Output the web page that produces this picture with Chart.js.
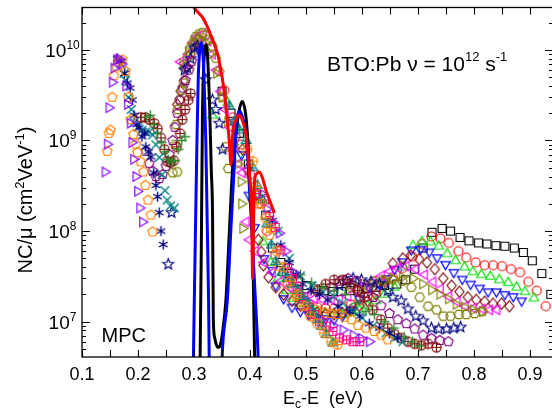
<!DOCTYPE html>
<html><head><meta charset="utf-8">
<script src="https://cdn.jsdelivr.net/npm/chart.js@4"></script>
<style>html,body{margin:0;padding:0;overflow:hidden;background:#fff}canvas{display:block}</style>
</head><body>
<canvas id="c" width="560" height="417"></canvas>
<script>
// ---------------- DATA (energy Ec-E in eV, NC/mu in cm^-2 V^-1 eV^-1) ----------------
const sqE = [0.350,0.366,0.381,0.397,0.412,0.428,0.440,0.455,0.470,0.486,0.501,0.517,0.532,0.548,0.563,0.579,0.594,0.610,0.625,0.640,0.662,0.678,0.694,0.709,0.725,0.743,0.758,0.775,0.791,0.808,0.823,0.839,0.855,0.872,0.888,0.904,0.921,0.937];
const sqV = [3.5e9,2.0e9,1.2e9,5.5e8,2.5e8,1.5e8,6.5e7,4.5e7,3.4e7,2.8e7,2.5e7,2.3e7,2.2e7,2.15e7,2.15e7,2.2e7,2.3e7,2.35e7,2.4e7,2.5e7,2.6e7,2.9e7,3.8e7,6.5e7,9.7e7,1.07e8,1.0e8,8.5e7,7.8e7,7.4e7,7.2e7,6.9e7,6.8e7,6.5e7,5.8e7,4.7e7,3.4e7,2.0e7];

const ciE = [0.354,0.370,0.385,0.400,0.415,0.430,0.445,0.460,0.475,0.490,0.505,0.520,0.535,0.550,0.565,0.580,0.595,0.610,0.625,0.640,0.655,0.672,0.690,0.707,0.724,0.740,0.755,0.772,0.786,0.803,0.819,0.834,0.850,0.866,0.882,0.897,0.912,0.928];
const ciV = [3.6e9,1.8e9,9.0e8,4.2e8,2.0e8,1.0e8,5.5e7,3.5e7,2.4e7,1.8e7,1.55e7,1.45e7,1.4e7,1.4e7,1.45e7,1.55e7,1.7e7,1.9e7,2.2e7,2.6e7,3.1e7,3.9e7,5.2e7,7.2e7,8.7e7,8.3e7,7.4e7,6.0e7,5.1e7,4.5e7,4.2e7,4.2e7,4.1e7,3.8e7,3.5e7,2.75e7,2.2e7,1.48e7];

const tuE = [0.333,0.360,0.375,0.390,0.405,0.423,0.437,0.450,0.465,0.478,0.491,0.505,0.520,0.535,0.550,0.565,0.580,0.595,0.610,0.625,0.640,0.658,0.674,0.691,0.707,0.722,0.737,0.752,0.767,0.783,0.798,0.813,0.829,0.845,0.861,0.876,0.891,0.907];
const tuV = [1.9e9,2.6e9,1.4e9,6.5e8,2.5e8,7.6e7,4.5e7,3.0e7,2.2e7,1.8e7,1.58e7,1.4e7,1.3e7,1.25e7,1.2e7,1.2e7,1.25e7,1.35e7,1.5e7,1.7e7,2.0e7,2.4e7,4.0e7,6.9e7,7.6e7,7.6e7,6.8e7,5.6e7,4.7e7,4.0e7,3.55e7,3.3e7,3.16e7,2.9e7,2.7e7,2.4e7,2.14e7,1.82e7];

const tdE = [0.370,0.385,0.398,0.408,0.425,0.440,0.446,0.460,0.475,0.490,0.505,0.520,0.535,0.550,0.565,0.580,0.595,0.613,0.631,0.645,0.658,0.672,0.688,0.704,0.720,0.734,0.749,0.764,0.779,0.794,0.810,0.825,0.840,0.855,0.870,0.885];
const tdV = [1.6e9,7.0e8,2.5e8,1.1e8,5.0e7,3.7e7,2.5e7,1.8e7,1.45e7,1.3e7,1.2e7,1.12e7,1.08e7,1.05e7,1.15e7,1.35e7,1.8e7,2.4e7,2.6e7,3.0e7,3.8e7,4.6e7,6.2e7,6.3e7,5.9e7,5.1e7,4.3e7,3.5e7,2.95e7,2.6e7,2.35e7,2.14e7,2.14e7,2.0e7,1.9e7,1.7e7];

const dmE = [0.270,0.276,0.282,0.288,0.294,0.300,0.306,0.375,0.387,0.395,0.405,0.415,0.420,0.424,0.433,0.446,0.460,0.475,0.490,0.505,0.520,0.535,0.550,0.565,0.580,0.595,0.610,0.625,0.640,0.655,0.673,0.687,0.702,0.716,0.730,0.745,0.760,0.774,0.789,0.804,0.819,0.834,0.849,0.863];
const dmV = [2.5e9,3.5e9,4.6e9,6.5e9,9.0e9,1.15e10,1.3e10,1.1e9,8.0e8,4.8e8,2.2e8,8.0e7,5.9e7,4.2e7,3.1e7,2.4e7,2.0e7,1.7e7,1.5e7,1.35e7,1.25e7,1.2e7,1.2e7,1.25e7,1.35e7,1.5e7,1.7e7,2.0e7,2.8e7,4.4e7,5.0e7,5.4e7,4.9e7,4.5e7,3.8e7,3.0e7,2.5e7,2.14e7,1.86e7,1.74e7,1.66e7,1.58e7,1.58e7,1.48e7];

const tlE = [0.276,0.282,0.290,0.298,0.306,0.316,0.325,0.333,0.340,0.348,0.356,0.364,0.372,0.380,0.386,0.393,0.399,0.410,0.425,0.440,0.455,0.470,0.485,0.500,0.515,0.530,0.545,0.560,0.575,0.590,0.605,0.620,0.635,0.650,0.665,0.679,0.696,0.712,0.727,0.740,0.755,0.770,0.785,0.799,0.815,0.828,0.841];
const tlV = [7.4e9,7.1e9,9.0e9,1.2e10,1.4e10,1.5e10,1.25e10,9.0e9,6.0e9,3.5e9,2.2e9,1.4e9,8.5e8,5.5e8,4.4e8,1.26e8,8.0e7,6.0e7,4.5e7,3.5e7,2.8e7,2.4e7,2.1e7,1.9e7,1.8e7,1.75e7,1.75e7,1.8e7,1.9e7,2.2e7,2.5e7,2.8e7,3.2e7,3.6e7,3.9e7,4.1e7,3.8e7,3.3e7,2.75e7,2.3e7,1.9e7,1.66e7,1.48e7,1.41e7,1.38e7,1.35e7,1.35e7];

const trE = [0.280,0.290,0.300,0.310,0.320,0.330,0.340,0.350,0.360,0.370,0.378,0.384,0.385,0.387,0.600,0.620,0.640,0.655,0.672,0.691,0.708,0.724,0.739,0.754,0.768,0.783,0.799,0.815];
const trV = [7.0e9,9.5e9,1.25e10,1.3e10,1.2e10,9.0e9,5.5e9,3.0e9,1.6e9,9.0e8,5.5e8,3.5e8,2.0e8,1.07e8,2.2e7,2.6e7,2.8e7,3.0e7,3.1e7,3.0e7,2.6e7,2.24e7,2.0e7,1.78e7,1.55e7,1.45e7,1.35e7,1.29e7];

const hxE = [0.262,0.270,0.266,0.268,0.271,0.274,0.278,0.282,0.285,0.289,0.293,0.298,0.303,0.309,0.315,0.321,0.327,0.333,0.339,0.345,0.351,0.357,0.361,0.580,0.600,0.620,0.637,0.655,0.672,0.688,0.703,0.718,0.733,0.745,0.758,0.773,0.786,0.801,0.815];
const hxV = [4.4e8,4.5e8,9.0e8,1.5e9,2.2e9,2.8e9,3.6e9,4.3e9,6.5e9,8.5e9,1.05e10,1.2e10,1.4e10,1.5e10,1.55e10,1.45e10,1.3e10,1.1e10,8.1e9,5.8e9,3.0e9,8.5e8,4.9e8,2.4e7,2.6e7,2.8e7,2.9e7,2.9e7,2.8e7,2.4e7,1.86e7,1.48e7,1.35e7,1.15e7,1.15e7,1.2e7,1.2e7,1.23e7,1.29e7];

const stE = [0.254,0.260,0.283,0.288,0.294,0.300,0.306,0.312,0.321,0.333,0.339,0.345,0.351,0.560,0.572,0.584,0.599,0.616,0.631,0.646,0.655,0.670,0.682,0.696,0.709,0.724,0.737,0.751,0.764,0.776];
const stV = [4.3e7,1.6e8,6.0e9,6.3e9,8.0e9,1.05e10,1.1e10,1.0e10,4.7e9,2.8e9,2.2e9,1.55e9,8.0e8,2.5e7,2.8e7,3.0e7,2.9e7,2.75e7,2.6e7,2.2e7,1.86e7,1.7e7,1.38e7,1.15e7,1.02e7,8.5e6,8.3e6,8.3e6,8.5e6,8.7e6];

const pnE = [0.214,0.220,0.226,0.232,0.238,0.244,0.250,0.256,0.262,0.266,0.270,0.275,0.280,0.285,0.291,0.296,0.545,0.560,0.575,0.590,0.606,0.620,0.634,0.649,0.664,0.679,0.694,0.709,0.724,0.739,0.754];
const pnV = [7.6e8,5.6e8,4.6e8,4.0e8,3.8e8,4.2e8,5.2e8,7.0e8,1.0e9,1.4e9,2.0e9,2.8e9,3.8e9,4.6e9,6.0e9,7.5e9,2.4e7,2.8e7,3.0e7,2.8e7,2.3e7,1.85e7,1.5e7,1.23e7,1.05e7,9.5e6,8.3e6,7.1e6,6.5e6,6.2e6,6.0e6];

const cpE = [0.205,0.213,0.220,0.229,0.235,0.241,0.247,0.252,0.258,0.264,0.269,0.275,0.279,0.284,0.290,0.294,0.520,0.535,0.550,0.566,0.580,0.592,0.604,0.619,0.634,0.646,0.658,0.670,0.682,0.694,0.706,0.718,0.733];
const cpV = [1.8e9,1.8e9,1.7e9,1.55e9,1.35e9,1.07e9,8.0e8,5.9e8,5.7e8,6.0e8,8.5e8,1.2e9,1.7e9,2.2e9,2.8e9,3.3e9,2.2e7,2.6e7,2.9e7,2.9e7,2.6e7,2.2e7,1.86e7,1.35e7,1.05e7,8.5e6,7.3e6,6.6e6,6.0e6,5.7e6,5.5e6,5.7e6,5.2e6];

const plE = [0.215,0.222,0.228,0.235,0.242,0.248,0.254,0.260,0.266,0.272,0.278,0.284,0.490,0.510,0.530,0.550,0.570,0.590,0.607,0.622,0.640,0.657,0.675,0.690,0.703];
const plV = [1.8e9,1.9e9,1.5e9,1.2e9,9.5e8,7.5e8,6.2e8,5.8e8,6.0e8,8.0e8,1.0e9,1.1e9,3.3e7,2.7e7,2.4e7,2.2e7,2.0e7,1.6e7,1.3e7,1.2e7,1.0e7,8.5e6,6.8e6,6.0e6,5.4e6];

const xxE = [0.170,0.175,0.178,0.183,0.188,0.193,0.200,0.207,0.214,0.220,0.226,0.232,0.238,0.243,0.248,0.252,0.258,0.265,0.450,0.470,0.490,0.510,0.530,0.550,0.566,0.585,0.600,0.620,0.643,0.658,0.673];
const xxV = [7.0e9,5.5e9,4.6e9,3.0e9,2.2e9,1.6e9,1.4e9,1.3e9,1.25e9,1.25e9,1.15e9,9.0e8,6.5e8,4.2e8,2.8e8,2.2e8,1.9e8,1.8e8,1.0e8,5.0e7,3.2e7,2.5e7,2.1e7,1.9e7,1.6e7,1.3e7,1.1e7,9.0e6,7.5e6,6.6e6,6.0e6];

const asE = [0.163,0.170,0.176,0.181,0.186,0.190,0.193,0.198,0.202,0.207,0.212,0.214,0.219,0.223,0.228,0.232,0.235,0.238,0.241,0.245,0.440,0.455,0.470,0.482,0.494,0.509,0.524,0.539,0.557,0.578,0.596,0.613,0.631,0.649,0.664];
const asV = [8.0e9,7.5e9,5.5e9,4.3e9,3.8e9,2.8e9,1.9e9,1.5e9,1.38e9,1.1e9,1.2e9,8.5e8,7.5e8,6.6e8,4.4e8,3.2e8,2.4e8,1.6e8,1.0e8,7.1e7,1.3e8,7.0e7,4.5e7,3.3e7,2.6e7,2.2e7,2.0e7,1.74e7,1.48e7,1.29e7,1.15e7,9.5e6,8.5e6,7.4e6,6.6e6];

const opE = [0.145,0.148,0.151,0.154,0.157,0.162,0.166,0.172,0.178,0.183,0.187,0.192,0.196,0.199,0.205,0.210,0.213,0.218,0.223,0.226,0.420,0.435,0.450,0.466,0.482,0.500,0.518,0.533,0.545,0.557,0.569,0.581,0.593,0.607,0.622,0.634,0.646];
const opV = [7.6e8,1.2e9,1.3e9,3.0e9,5.2e9,6.5e9,7.4e9,7.8e9,5.8e9,3.0e9,1.7e9,1.17e9,9.1e8,7.4e8,5.8e8,4.5e8,3.2e8,2.2e8,1.5e8,9.8e7,2.0e8,9.0e7,4.1e7,2.6e7,1.9e7,1.55e7,1.35e7,1.26e7,1.23e7,1.2e7,1.12e7,1.05e7,9.1e6,8.5e6,7.8e6,7.1e6,6.3e6];

const vtE = [0.141,0.145,0.148,0.154,0.157,0.162,0.166,0.171,0.178,0.181,0.186,0.189,0.192,0.196,0.199,0.203,0.208,0.420,0.430,0.440,0.452,0.464,0.478,0.494,0.509,0.527,0.548,0.566,0.584,0.599,0.613];
const vtV = [4.5e8,9.1e8,2.3e9,4.4e9,6.3e9,7.8e9,8.0e9,7.0e9,4.0e9,2.5e9,1.55e9,9.5e8,6.2e8,4.0e8,2.75e8,1.8e8,1.26e8,2.6e8,1.75e8,1.26e8,9.5e7,6.0e7,3.5e7,1.8e7,1.2e7,1.05e7,9.1e6,8.1e6,7.1e6,6.5e6,6.0e6];

const spE = [0.410,0.426,0.435,0.445,0.455,0.467,0.476,0.485,0.495,0.505,0.515,0.524,0.536,0.548,0.560,0.572,0.584,0.596];
const spV = [2.6e8,2.2e8,1.45e8,1.1e8,6.2e7,3.9e7,3.0e7,2.45e7,1.9e7,1.45e7,1.2e7,1.0e7,8.9e6,7.8e6,6.6e6,6.3e6,6.0e6,6.0e6];

const txE = [0.363,0.372,0.381,0.393,0.405,0.413,0.422,0.430,0.438,0.446,0.458,0.467,0.476,0.485,0.494,0.503,0.512,0.520,0.528,0.536,0.548];
const txV = [2.4e9,1.6e9,1.3e9,1.0e9,5.0e8,3.2e8,2.2e8,1.2e8,7.0e7,4.6e7,3.5e7,3.0e7,2.6e7,2.2e7,1.9e7,1.6e7,1.3e7,1.05e7,8.9e6,7.2e6,5.8e6];

const ocE = [0.395,0.405,0.410,0.420,0.428,0.437,0.448,0.460,0.472,0.484,0.496,0.508,0.520,0.532,0.545,0.556];
const ocV = [8.0e8,5.9e8,3.1e8,2.0e8,1.4e8,1.07e8,6.0e7,4.0e7,2.8e7,2.0e7,1.5e7,1.15e7,9.5e6,7.5e6,6.0e6,5.6e6];

// fitted curves
const redLE = [0.296,0.300,0.307,0.315,0.323,0.333,0.340,0.345,0.354,0.359,0.363,0.366,0.369,0.375,0.381,0.387,0.393,0.397,0.4005,0.403,0.4046,0.4077,0.412,0.4166,0.422,0.4286,0.436,0.4435];
const redLV = [3.3e10,2.95e10,2.6e10,2.3e10,1.85e10,1.3e10,1.0e10,7.5e9,3.47e9,1.76e9,9.8e8,5.4e8,1.15e9,1.7e9,1.9e9,1.62e9,1.15e9,6.4e8,3.2e8,1.64e8,3.0e7,3.4e8,4.3e8,4.5e8,3.9e8,2.8e8,2.1e8,1.58e8];
const blkLE = [0.3105,0.313,0.315,0.317,0.3195,0.3215,0.3245,0.328,0.3308,0.3331,0.3345,0.337,0.3397,0.3438,0.3469,0.351,0.357,0.363,0.369,0.375,0.381,0.386,0.392,0.396,0.400,0.404,0.406,0.408,0.4095];
const blkLV = [2.5e6,6.2e7,1.7e9,6.0e9,1.05e10,1.14e10,7.8e9,2.2e9,4.8e8,1.5e8,1.05e7,6.6e6,5.6e6,5.2e6,5.5e6,7.6e6,1.74e7,9.5e7,5.1e8,1.2e9,2.2e9,2.7e9,2.0e9,1.02e9,3.1e8,9.5e7,2.7e7,4.9e6,2.5e6];
const bluLE = [0.2985,0.300,0.302,0.305,0.3075,0.310,0.313,0.3155,0.318,0.321,0.3235,0.326,0.3275,0.340,0.349,0.351,0.3595,0.3655,0.3715,0.375,0.378,0.382,0.386,0.391,0.394,0.3975,0.402,0.408,0.414,0.4155];
const bluLV = [2.5e6,1.05e7,6.2e7,7.9e8,4.7e9,9.5e9,1.2e10,1.0e10,4.7e9,1.02e9,1.3e8,1.74e7,2.5e6,null,2.5e6,5.2e6,1.74e7,9.5e7,4.8e8,1.3e9,1.9e9,2.1e9,1.85e9,1.38e9,1.02e9,4.2e8,1.45e8,2.7e7,4.9e6,2.5e6];

// axis ticks
const xMinorTicks = [0.1,0.15,0.2,0.25,0.3,0.35,0.4,0.45,0.5,0.55,0.6,0.65,0.7,0.75,0.8,0.85,0.9];
const xLabelVals = [0.1,0.2,0.3,0.4,0.5,0.6,0.7,0.8,0.9];
const xLabels = ['0.1','0.2','0.3','0.4','0.5','0.6','0.7','0.8','0.9'];
const yMajorVals = [1e7,1e8,1e9,1e10];
const yExps = ['7','8','9','10'];

// ---------------- STYLE ----------------
const FONT = '"Liberation Sans", Arial, Helvetica, sans-serif';
function poly(g, n, r, a0){ for(let i=0;i<n;i++){const a=a0+i*2*Math.PI/n; const px=r*Math.cos(a), py=r*Math.sin(a); if(i===0) g.moveTo(px,py); else g.lineTo(px,py);} g.closePath(); }
function mk(shape, color){
  const s=15, c=document.createElement('canvas'); c.width=s; c.height=s;
  const g=c.getContext('2d'); g.strokeStyle=color; g.lineWidth=1.15; g.translate(s/2,s/2); g.beginPath();
  const D=Math.PI/180;
  switch(shape){
    case 'sq': g.rect(-4,-4,8,8); break;
    case 'ci': g.arc(0,0,4.5,0,2*Math.PI); break;
    case 'tu': poly(g,3,5.4,-90*D); break;
    case 'td': poly(g,3,5.4,90*D); break;
    case 'tl': poly(g,3,5.4,180*D); break;
    case 'tr': poly(g,3,5.4,0); break;
    case 'dm': g.moveTo(0,-5.5); g.lineTo(4.6,0); g.lineTo(0,5.5); g.lineTo(-4.6,0); g.closePath(); break;
    case 'hx': poly(g,6,4.8,0); break;
    case 'pn': poly(g,5,5,-90*D); break;
    case 'st': for(let i=0;i<10;i++){const a=-90*D+i*36*D, r=(i%2?2.4:5.6); const px=r*Math.cos(a), py=r*Math.sin(a); if(i===0) g.moveTo(px,py); else g.lineTo(px,py);} g.closePath(); break;
    case 'cp': g.arc(0,0,4.6,0,2*Math.PI); g.moveTo(-4.6,0); g.lineTo(4.6,0); g.moveTo(0,-4.6); g.lineTo(0,4.6); break;
    case 'pl': g.lineWidth=1.4; g.moveTo(-5,0); g.lineTo(5,0); g.moveTo(0,-5); g.lineTo(0,5); break;
    case 'xx': g.lineWidth=1.4; g.moveTo(-4.3,-4.3); g.lineTo(4.3,4.3); g.moveTo(4.3,-4.3); g.lineTo(-4.3,4.3); break;
    case 'as': g.lineWidth=1.4; for(const a of [90,30,150]){const dx=5*Math.cos(a*D), dy=5*Math.sin(a*D); g.moveTo(-dx,-dy); g.lineTo(dx,dy);} break;
    case 'sp': g.rect(-4,-4,8,8); g.moveTo(-4,0); g.lineTo(4,0); g.moveTo(0,-4); g.lineTo(0,4); break;
    case 'tx': poly(g,3,5.6,-90*D); g.moveTo(0,-5.6); g.lineTo(0,2.8); g.moveTo(-3,0.5); g.lineTo(3,0.5); break;
  }
  g.stroke(); return c;
}
function zip(E,V){ const n=Math.min(E.length,V.length); const out=[]; for(let i=0;i<n;i++) out.push({x:E[i], y:V[i]}); return out; }

const scatterDefs = [
  [sqE,sqV,'sq','#000000'], [ciE,ciV,'ci','#ff0000'], [tuE,tuV,'tu','#00e000'], [tdE,tdV,'td','#0000ff'],
  [dmE,dmV,'dm','#800000'], [tlE,tlV,'tl','#ff00ff'], [trE,trV,'tr','#808000'], [hxE,hxV,'hx','#808000'],
  [stE,stV,'st','#000080'], [pnE,pnV,'pn','#800080'], [cpE,cpV,'cp','#800000'], [plE,plV,'pl','#2e8b2e'],
  [xxE,xxV,'xx','#008080'], [asE,asV,'as','#000080'], [opE,opV,'pn','#ff8000'], [vtE,vtV,'tr','#8000ff'],
  [spE,spV,'sp','#ff0080'], [txE,txV,'tx','#008080'], [ocE,ocV,'cp','#ff8000']
];
const datasets = [
  {data: zip(redLE,redLV), showLine:true, borderColor:'#ff0000', borderWidth:3, pointRadius:0, cubicInterpolationMode:'monotone', order:0},
  {data: zip(bluLE,bluLV), showLine:true, borderColor:'#0000ff', borderWidth:3, pointRadius:0, cubicInterpolationMode:'monotone', order:1, spanGaps:false},
  {data: zip(blkLE,blkLV), showLine:true, borderColor:'#000000', borderWidth:3, pointRadius:0, cubicInterpolationMode:'monotone', order:2}
];
scatterDefs.forEach((d,k)=>{
  datasets.push({data: zip(d[0],d[1]), showLine:false, pointStyle: mk(d[2],d[3]), pointRadius:4, pointHoverRadius:4, order: 100-k});
});

function drawRich(ctx, parts, x, y, align){
  let w=0; for(const p of parts){ ctx.font = p.s+'px '+FONT; p.w = ctx.measureText(p.t).width; w+=p.w; }
  let cx = align==='center' ? x - w/2 : x;
  for(const p of parts){ ctx.font = p.s+'px '+FONT; ctx.fillText(p.t, cx, y + (p.dy||0)); cx += p.w; }
}

const deco = {
  id:'deco',
  afterDraw(chart){
    const ctx=chart.ctx, a=chart.chartArea, xs=chart.scales.x, ys=chart.scales.y;
    ctx.save();
    ctx.strokeStyle='#000'; ctx.lineWidth=1.3;
    ctx.strokeRect(a.left, a.top, a.right-a.left, a.bottom-a.top);
    ctx.beginPath(); ctx.lineWidth=1.1;
    for(const v of xMinorTicks){ const p=Math.round(xs.getPixelForValue(v))+0.5; ctx.moveTo(p,a.bottom); ctx.lineTo(p,a.bottom-7); ctx.moveTo(p,a.top); ctx.lineTo(p,a.top+7); }
    for(let e=6;e<=10;e++){ for(let m=1;m<=9;m++){ const v=m*Math.pow(10,e); if(v<ys.min||v>ys.max) continue; const p=Math.round(ys.getPixelForValue(v))+0.5; const L = m===1?8:4; ctx.moveTo(a.left,p); ctx.lineTo(a.left+L,p); ctx.moveTo(a.right,p); ctx.lineTo(a.right-L,p);} }
    ctx.stroke();
    ctx.fillStyle='#000'; ctx.textBaseline='alphabetic';
    xLabelVals.forEach((v,i)=>{ ctx.font='18px '+FONT; ctx.textAlign='center'; ctx.fillText(xLabels[i], xs.getPixelForValue(v), a.bottom+23); });
    ctx.textAlign='left';
    yMajorVals.forEach((v,i)=>{ drawRich(ctx,[{t:'10',s:19},{t:yExps[i],s:12,dy:-8}], a.left-19.5, ys.getPixelForValue(v)+7, 'center'); });
    drawRich(ctx,[{t:'BTO:Pb \u03bd = 10',s:21},{t:'12',s:13,dy:-10},{t:' s',s:21},{t:'-1',s:13,dy:-10}], 327, 71, 'left');
    drawRich(ctx,[{t:'MPC',s:20}], 101.5, 341.5, 'left');
    drawRich(ctx,[{t:'E',s:18},{t:'c',s:12,dy:4},{t:'-E  (eV)',s:18}], 283, 404, 'left');
    ctx.save(); ctx.translate(32,200); ctx.rotate(-Math.PI/2);
    drawRich(ctx,[{t:'NC/\u03bc (cm',s:20},{t:'2',s:13,dy:-8},{t:'VeV',s:20},{t:'-1',s:13,dy:-8},{t:')',s:20}], 0, 0, 'center');
    ctx.restore();
    ctx.restore();
  }
};

new Chart(document.getElementById('c'), {
  type:'scatter',
  data:{datasets},
  options:{
    responsive:false, animation:false, devicePixelRatio:1,
    layout:{padding:{left:82, right:7, top:7.5, bottom:60}},
    plugins:{legend:{display:false}, tooltip:{enabled:false}},
    events:[],
    scales:{
      x:{type:'linear', min:0.1, max:0.941, display:false},
      y:{type:'logarithmic', min:4.07e6, max:2.94e10, display:false}
    }
  },
  plugins:[deco]
});
</script>
</body></html>
